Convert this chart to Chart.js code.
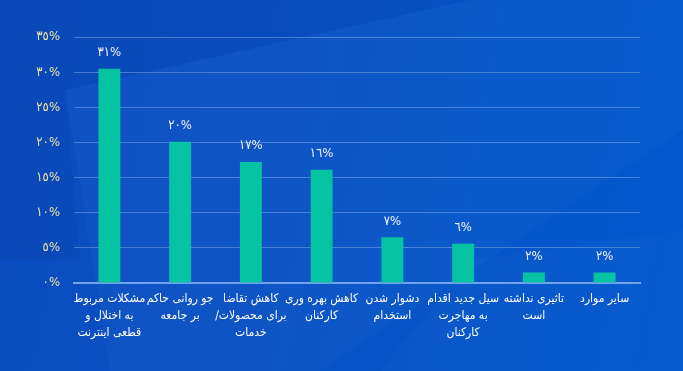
<!DOCTYPE html>
<html>
<head>
<meta charset="utf-8">
<script src="https://cdn.jsdelivr.net/npm/chart.js@4"></script>
<style>
  html, body { margin:0; padding:0; width:683px; height:371px; overflow:hidden; }
  #wrap { position:relative; width:683px; height:371px;
    background: linear-gradient(100deg, #0a4cc0 0%, #0a50c4 40%, #0555c9 70%, #0358cd 100%); }
  .shape { position:absolute; left:0; top:0; width:683px; height:371px; pointer-events:none; }
  #s1 { background: rgba(255,255,255,0.025); clip-path: polygon(65px 90px, 470px 0px, 683px 0px, 683px 130px, 320px 371px, 110px 371px); }
  #s2 { background: rgba(0,20,90,0.06); clip-path: polygon(0 0, 470px 0, 65px 90px, 80px 260px, 0 260px); }
  #s3 { background: rgba(255,255,255,0.02); clip-path: polygon(380px 371px, 470px 260px, 683px 230px, 683px 371px); }
  canvas { position:absolute; left:0; top:0; }
</style>
</head>
<body>
<div id="wrap">
  <div class="shape" id="s2"></div>
  <div class="shape" id="s1"></div>
  <div class="shape" id="s3"></div>
  <canvas id="c" width="683" height="371"></canvas>
</div>
<script>
const categories = [
  ["مشکلات مربوط", "به اختلال و", "قطعی اینترنت"],
  ["جو روانی حاکم", "بر جامعه"],
  ["کاهش تقاضا", "\u202Bبرای محصولات/\u202C", "خدمات"],
  ["کاهش بهره وری", "کارکنان"],
  ["دشوار شدن", "استخدام"],
  ["سیل جدید اقدام", "به مهاجرت", "کارکنان"],
  ["تاثیری نداشته", "است"],
  ["سایر موارد"]
];
const values = [30.5, 20.1, 17.2, 16.1, 6.5, 5.6, 1.5, 1.5];
const valueLabels = ["٣١%", "٢٠%", "١٧%", "١٦%", "٧%", "٦%", "٢%", "٢%"];
const tickLabels = {0:"٠%", 5:"٥%", 10:"١٠%", 15:"١٥%", 20:"٢٠%", 25:"٢٥%", 30:"٣٠%", 35:"٣٥%"};

const FONT = "'DejaVu Sans Condensed', 'DejaVu Sans', sans-serif";

const valuePlugin = {
  id: 'valueLabels',
  afterDatasetsDraw(chart) {
    const ctx = chart.ctx;
    const meta = chart.getDatasetMeta(0);
    ctx.save();
    ctx.fillStyle = '#eef2fb';
    ctx.font = '13px ' + FONT;
    ctx.textAlign = 'center';
    ctx.textBaseline = 'middle';
    meta.data.forEach((bar, i) => {
      ctx.fillText(valueLabels[i], bar.x, bar.y - 16);
    });
    ctx.restore();
  }
};

new Chart(document.getElementById('c'), {
  type: 'bar',
  data: {
    labels: categories,
    datasets: [{
      data: values,
      backgroundColor: '#05c3a3',
      borderWidth: 0,
      barPercentage: 0.62,
      categoryPercentage: 0.5
    }]
  },
  options: {
    responsive: false,
    animation: false,
    layout: { padding: { top: 37, right: 43, left: 0, bottom: 0 } },
    plugins: { legend: { display: false }, tooltip: { enabled: false } },
    scales: {
      x: {
        grid: { display: false, drawTicks: false },
        border: { display: true, color: '#73a2ec', width: 2 },
        ticks: { color: '#ffffff', font: { family: FONT, size: 12, lineHeight: 1.38 }, padding: 8, maxRotation: 0, autoSkip: false },
        afterFit(s) { s.height = 88; }
      },
      y: {
        min: 0, max: 35,
        grid: { color: 'rgba(160,190,240,0.42)', lineWidth: 1, drawTicks: false },
        border: { display: false },
        ticks: {
          stepSize: 5, padding: 14, color: '#f0e3a2',
          font: { family: FONT, size: 13 },
          callback: v => tickLabels[v]
        },
        afterFit(s) { s.width = 74; }
      }
    }
  },
  plugins: [valuePlugin]
});
</script>
</body>
</html>
